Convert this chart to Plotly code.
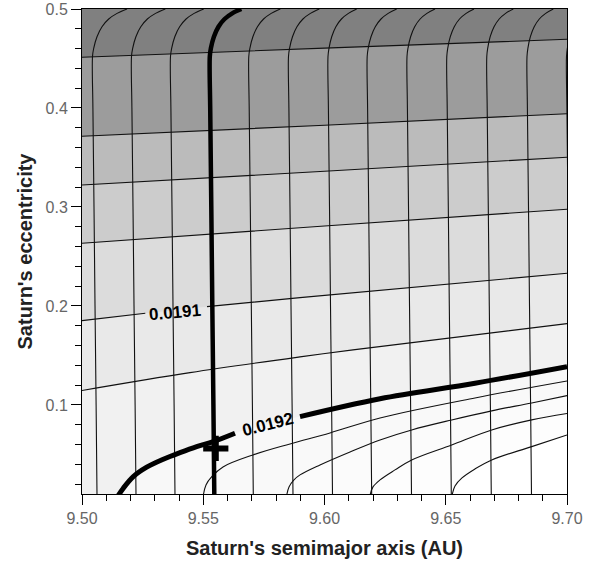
import plotly.graph_objects as go

# ---------------- data ----------------
# grey band boundaries (eccentricity as a function of semimajor axis)
band_a = [9.50, 9.60, 9.70]
band_A = [0.4512, 0.4605, 0.4694]
band_B = [0.3714, 0.3826, 0.3942]
band_C = [0.3222, 0.3361, 0.3502]
band_D = [0.2633, 0.2808, 0.2977]
band_E_a = [9.50, 9.5261, 9.55155, 9.5899, 9.70]
band_E_e = [0.1852, 0.1926, 0.1993, 0.2084, 0.2330]
band_F_a = [9.50, 9.54454, 9.5899, 9.61175, 9.70]
band_F_e = [0.1146, 0.1326, 0.1485, 0.1556, 0.1821]

# thick 0.0192 contour
c0192_a = [9.51497, 9.51703, 9.52115, 9.52668, 9.53353, 9.54041, 9.54730,
           9.55414, 9.56309, 9.58990, 9.62289, 9.66206, 9.70]
c0192_e = [0.0085, 0.01586, 0.02758, 0.03707, 0.04515, 0.05182, 0.05788,
           0.06293, 0.07141, 0.08818, 0.10626, 0.12192, 0.13869]
c0192_gap = 9  # label sits between point 8 and point 9

# thin contours below the 0.0192 line
c1_a = [9.55002, 9.55113, 9.55361, 9.55814, 9.57052, 9.58577, 9.60227, 9.62289, 9.66206, 9.70]
c1_e = [0.0085, 0.01919, 0.02778, 0.03737, 0.04949, 0.06061, 0.07172, 0.08687, 0.10707, 0.12424]
c2_a = [9.58441, 9.58536, 9.58742, 9.58990, 9.59814, 9.61052, 9.62289, 9.63596, 9.65245, 9.66895, 9.68544, 9.70]
c2_e = [0.0085, 0.01717, 0.02424, 0.02929, 0.03939, 0.05253, 0.06465, 0.07475, 0.08480, 0.09400, 0.10200, 0.10939]
c3_a = [9.61876, 9.62000, 9.62289, 9.62907, 9.63596, 9.65245, 9.66895, 9.68544, 9.70]
c3_e = [0.0085, 0.01717, 0.02424, 0.03434, 0.04444, 0.05960, 0.07475, 0.08485, 0.09141]
c4_a = [9.65258, 9.65381, 9.65670, 9.66206, 9.66895, 9.68544, 9.70]
c4_e = [0.0085, 0.01818, 0.02626, 0.03535, 0.04444, 0.05788, 0.06970]

# near-vertical contours: position at the bottom edge, shared lean + top bend profile
vert_bottom_a = [9.50619, 9.52227, 9.53835, 9.57064, 9.58701, 9.60330,
                 9.61946, 9.63588, 9.65229, 9.66878, 9.68536, 9.70165]
vert_top_shift = [0.01443, 0.01414, 0.01390, 0.01320, 0.01291, 0.01204,
                  0.01237, 0.01175, 0.01142, 0.01113, 0.01105, 0.01093]
vert_e = [0.0085, 0.1, 0.2, 0.3, 0.4, 0.452, 0.4603, 0.472, 0.4821, 0.4899, 0.4956, 0.5]
vert_lean = [0, -0.00037, -0.00082, -0.00124, -0.00169, -0.00186, -0.00190,
             -0.00194, -0.00198, -0.00202, -0.00204, -0.00206]
vert_bend = [0, 0, 0, 0, 0, 0, 0.037, 0.134, 0.28, 0.474, 0.714, 1.0]

# thick 0.0191 contour (near vertical)
c0191_bottom_a = 9.55456
c0191_top_shift = 0.0132

# best-fit marker
best_a = [9.55517]
best_e = [0.05606]

labels = ["0.0191", "0.0192"]
label_a = [9.5384, 9.5767]
label_e = [0.1934, 0.0798]
label_angle = [-5, -14]

fill_colors = ["#9c9c9c", "#bbbbbb", "#cccccc", "#dcdcdc", "#e9e9e9",
               "#f1f1f1", "#f8f8f8", "#f9f9f9", "#fbfbfb", "#fdfdfd", "#ffffff"]
top_color = "#808080"

# ---------------- figure ----------------
fig = go.Figure()

def fill_below(a, e, color):
    fig.add_trace(go.Scatter(x=a, y=e, mode="lines", fill="tozeroy", fillcolor=color,
                             line=dict(width=0, shape="spline"), hoverinfo="skip",
                             showlegend=False))

def line(a, e, width=1.1, color="#111111"):
    fig.add_trace(go.Scatter(x=a, y=e, mode="lines",
                             line=dict(width=width, color=color, shape="spline"),
                             hoverinfo="skip", showlegend=False))

fill_sets = [(band_a, band_A), (band_a, band_B), (band_a, band_C), (band_a, band_D),
             (band_E_a, band_E_e), (band_F_a, band_F_e), (c0192_a, c0192_e),
             (c1_a, c1_e), (c2_a, c2_e), (c3_a, c3_e), (c4_a, c4_e)]
for (a, e), col in zip(fill_sets, fill_colors):
    fill_below(a, e, col)

# thin band boundaries
for e in (band_A, band_B, band_C, band_D):
    line(band_a, e)
line(band_E_a[:2], band_E_e[:2])
line(band_E_a[2:], band_E_e[2:])
line(band_F_a, band_F_e)
for a, e in ((c1_a, c1_e), (c2_a, c2_e), (c3_a, c3_e), (c4_a, c4_e)):
    line(a, e)

# near-vertical thin contours
for a0, sh in zip(vert_bottom_a, vert_top_shift):
    xs = [a0 + l + sh * b for l, b in zip(vert_lean, vert_bend)]
    line(xs, vert_e)

# thick contours
xs = [c0191_bottom_a + l + c0191_top_shift * b for l, b in zip(vert_lean, vert_bend)]
line(xs, vert_e, width=4.5, color="black")
line(c0192_a[:c0192_gap], c0192_e[:c0192_gap], width=5, color="black")
line(c0192_a[c0192_gap:], c0192_e[c0192_gap:], width=5, color="black")

fig.add_trace(go.Scatter(x=best_a, y=best_e, mode="markers",
                         marker=dict(symbol="cross-thin", size=18,
                                     line=dict(width=6, color="black")),
                         hoverinfo="skip", showlegend=False))

for t, a, e, ang in zip(labels, label_a, label_e, label_angle):
    fig.add_annotation(x=a, y=e, xref="x", yref="y", text="<b>%s</b>" % t,
                       showarrow=False, textangle=ang,
                       font=dict(family="Liberation Sans, Arial", size=17, color="black"))

tickfont = dict(family="Liberation Sans, Arial", size=16, color="#666666")
titlefont = dict(family="Liberation Sans, Arial", size=20, color="#222222")

fig.update_layout(
    width=600, height=564,
    margin=dict(l=82, r=33, t=9, b=70),
    plot_bgcolor=top_color, paper_bgcolor="white",
    showlegend=False,
    xaxis=dict(range=[9.5, 9.7], tick0=9.5, dtick=0.05, tickformat=".2f",
               ticks="outside", ticklen=10, tickcolor="black", tickwidth=1,
               showline=True, linecolor="black", linewidth=1, mirror=True,
               showgrid=False, zeroline=False, tickfont=tickfont, automargin=False,
               minor=dict(dtick=0.01, ticks="outside", ticklen=6, tickcolor="black", showgrid=False),
               title=dict(text="<b>Saturn's semimajor axis (AU)</b>", font=titlefont, standoff=14)),
    yaxis=dict(range=[0.01, 0.5], tick0=0.1, dtick=0.1, tickformat=".1f",
               ticks="outside", ticklen=10, tickcolor="black", tickwidth=1,
               showline=True, linecolor="black", linewidth=1, mirror=True,
               showgrid=False, zeroline=False, tickfont=tickfont, automargin=False,
               minor=dict(dtick=0.02, ticks="outside", ticklen=6, tickcolor="black", showgrid=False),
               title=dict(text="<b>Saturn's eccentricity</b>", font=titlefont, standoff=7)),
)

fig.write_html("out.html")
